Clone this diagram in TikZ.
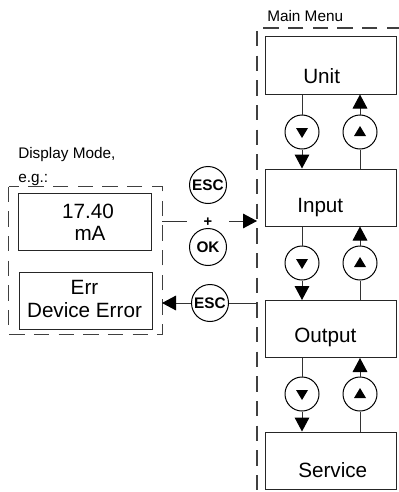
\documentclass[tikz,border=0pt]{standalone}
\usepackage{fontspec}
\setmainfont{Liberation Sans}
\usetikzlibrary{arrows.meta}
\begin{document}
\begin{tikzpicture}[x=0.75pt,y=-0.75pt,
  menubox/.style={draw=black!85,line width=0.75pt,minimum width={131*0.75pt},minimum height={57*0.75pt},inner sep=0pt},
  dispbox/.style={draw=black!85,line width=0.75pt,minimum width={133*0.75pt},minimum height={57*0.75pt},inner sep=0pt},
  frame/.style={draw=black!75,line width=0.8pt,dash pattern=on 11.5pt off 7pt},
  bigtxt/.style={font=\fontsize{15.5pt}{18pt}\selectfont,inner sep=0pt},
  smalltxt/.style={font=\fontsize{11.5pt}{13pt}\selectfont,inner sep=0pt},
  key/.style={circle,draw=black,line width=0.75pt,minimum size={37*0.75pt},inner sep=0pt,font=\bfseries\fontsize{11.5pt}{13pt}\selectfont},
  nav/.style={circle,draw=black,line width=0.75pt,minimum size={34*0.75pt},inner sep=0pt},
  conn/.style={draw=black!80,line width=0.75pt},
  arr/.style={conn,-{Triangle[width=11pt,length=10.5pt,color=black]}}
]
\useasboundingbox (0,0) rectangle (399,492);

% Main menu frame
\coordinate (mmtl) at (257,28);
\coordinate (mmtr) at (402,28);
\coordinate (mmbl) at (257,495);
\draw[frame] (mmtr) -- (mmtl) -- (mmbl);
\node[smalltxt,anchor=base west] (mmlabel) at (267,22) {Main Menu};

% Menu boxes
\node[menubox] (unit) at (330.5,65.5) {};
\node[menubox] (input) at (330.5,197.5) {};
\node[menubox] (output) at (330.5,329) {};
\node[menubox] (service) at (330.5,460.5) {};
\node[bigtxt,anchor=base west] (unitt) at (303,84) {Unit};
\node[bigtxt,anchor=base west] (inputt) at (297,212) {Input};
\node[bigtxt,anchor=base west] (outputt) at (294,342) {Output};
\node[bigtxt,anchor=base west] (servicet) at (298,477) {Service};

% Navigation circles
\foreach \a/\b/\n/\y in {unit/input/1/132, input/output/2/263, output/service/3/394}{
  \node[nav] (dn\n) at (302,\y) {};
  \node[nav] (up\n) at (360,\y) {};
  \fill ([shift={(-6,-4)}]dn\n.center) -- ([shift={(6,-4)}]dn\n.center) -- ([shift={(0,6)}]dn\n.center) -- cycle;
  \fill ([shift={(-6,4)}]up\n.center) -- ([shift={(6,4)}]up\n.center) -- ([shift={(0,-6)}]up\n.center) -- cycle;
  \draw[conn] (dn\n.north) -- (dn\n.north |- \a.south);
  \draw[arr] (dn\n.south) -- (dn\n.south |- \b.north);
  \draw[conn] (up\n.south) -- (up\n.south |- \b.north);
  \draw[arr] (up\n.north) -- (up\n.north |- \a.south);
}

% Display mode
\node[smalltxt,anchor=base west] (dmlabel) at (18,158) {Display Mode,};
\node[smalltxt,anchor=base west] (eglabel) at (18,182) {e.g.:};
\node[draw=none,minimum width={153*0.75pt},minimum height={147*0.75pt},inner sep=0pt] (dframe) at (85.5,260.5) {};
\draw[frame] (dframe.north west) rectangle (dframe.south east);
\node[dispbox] (disp1) at (84.5,221.5) {};
\node[dispbox] (disp2) at (85.5,300.5) {};
\node[bigtxt,anchor=base] (d1a) at (88,218) {17.40};
\node[bigtxt,anchor=base] (d1b) at (90,240) {mA};
\node[bigtxt,anchor=base] (d2a) at (84.5,294) {Err};
\node[bigtxt,anchor=base] (d2b) at (84.5,317) {Device Error};

% Keys
\node[key] (esc1) at (208,185) {ESC};
\node[key] (ok) at (208,247) {OK};
\node[font=\bfseries\fontsize{11pt}{12pt}\selectfont,inner sep=0pt] (plus) at (208,222) {+};
\coordinate (dfr) at (162,221);
\coordinate (mml) at (257,221);
\draw[conn] (dfr) -- (187,221);
\draw[arr] (229,221) -- (mml);
\node[key] (esc2) at (210,303) {ESC};
\coordinate (mml2) at (257,303);
\coordinate (dfr2) at (162,303);
\draw[conn] (mml2) -- (esc2.east);
\draw[arr] (esc2.west) -- (dfr2);
\end{tikzpicture}
\end{document}
